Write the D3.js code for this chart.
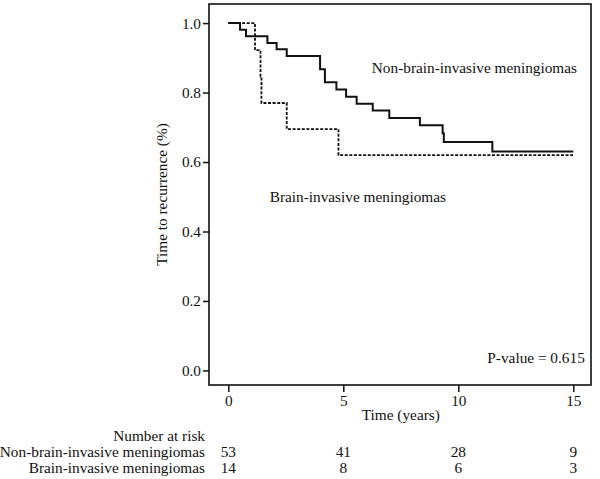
<!DOCTYPE html>
<html>
<head>
<meta charset="utf-8">
<script src="https://cdn.jsdelivr.net/npm/d3@7"></script>
<style>
  body { margin: 0; background: #fff; }
  svg text { font-family: "Liberation Serif", "Times New Roman", serif; fill: #111; }
</style>
</head>
<body>
<svg id="chart"></svg>
<script>
'use strict';

const WIDTH = 600;
const HEIGHT = 479;
const FONT = 15.3;

// Kaplan-Meier steps
const nonInvasiveTimes = [0, 0.51, 0.77, 1.70, 2.10, 2.54, 3.99, 4.20, 4.70, 5.12, 5.58, 6.28, 7.00, 8.33, 9.32, 9.37, 11.48, 15];
const nonInvasiveSurv  = [1.0, 0.981, 0.962, 0.943, 0.925, 0.905, 0.867, 0.830, 0.809, 0.788, 0.768, 0.748, 0.727, 0.706, 0.683, 0.658, 0.630, 0.630];

const invasiveTimes = [0, 1.16, 1.40, 1.44, 2.54, 4.79, 15];
const invasiveSurv  = [1.0, 0.922, 0.846, 0.770, 0.695, 0.620, 0.620];

const xTicks = [0, 5, 10, 15];
const yTicks = [0, 0.2, 0.4, 0.6, 0.8, 1.0];

const riskGroups = ['Non-brain-invasive meningiomas', 'Brain-invasive meningiomas'];
const riskNonInvasive = [53, 41, 28, 9];
const riskInvasive = [14, 8, 6, 3];

const FRAME = { left: 209, top: 4, right: 591, bottom: 385 };

const svg = d3.select('#chart').attr('width', WIDTH).attr('height', HEIGHT);

const x = d3.scaleLinear().domain([-0.84, 15.77]).range([FRAME.left, FRAME.right]);
const y = d3.scaleLinear().domain([-0.042, 1.055]).range([FRAME.bottom, FRAME.top]);

// axes
let xAxis = svg.append('g')
    .attr('transform', 'translate(0,' + FRAME.bottom + ')')
    .call(d3.axisBottom(x).tickValues(xTicks).tickSize(7).tickPadding(3).tickFormat(d3.format('d')));
let yAxis = svg.append('g')
    .attr('transform', 'translate(' + FRAME.left + ',0)')
    .call(d3.axisLeft(y).tickValues(yTicks).tickSize(6).tickPadding(2).tickFormat(d3.format('.1f')));
[xAxis, yAxis].forEach(function(g) {
    g.select('.domain').remove();
    g.selectAll('line').attr('stroke', '#111').attr('stroke-width', 1.5);
    g.selectAll('text').attr('font-size', FONT).attr('font-family', '"Liberation Serif", serif').attr('fill', '#111');
});

// frame
svg.append('rect')
    .attr('x', FRAME.left).attr('y', FRAME.top)
    .attr('width', FRAME.right - FRAME.left).attr('height', FRAME.bottom - FRAME.top)
    .attr('fill', 'none').attr('stroke', '#111').attr('stroke-width', 1.6);

// curves
const line = d3.line()
    .x(function(d) { return x(d[0]); })
    .y(function(d) { return y(d[1]); })
    .curve(d3.curveStepAfter);

svg.append('path')
    .datum(d3.zip(invasiveTimes, invasiveSurv))
    .attr('d', line)
    .attr('fill', 'none').attr('stroke', '#111').attr('stroke-width', 1.8)
    .attr('stroke-dasharray', '3,1.6');

svg.append('path')
    .datum(d3.zip(nonInvasiveTimes, nonInvasiveSurv))
    .attr('d', line)
    .attr('fill', 'none').attr('stroke', '#111').attr('stroke-width', 2);

// annotations
svg.append('text').attr('x', x(6.24)).attr('y', y(0.855)).attr('font-size', FONT)
    .text('Non-brain-invasive meningiomas');
svg.append('text').attr('x', x(1.8)).attr('y', y(0.485)).attr('font-size', FONT)
    .text('Brain-invasive meningiomas');
svg.append('text').attr('x', x(15.5)).attr('y', y(0.02)).attr('font-size', FONT)
    .attr('text-anchor', 'end').text('P-value = 0.615');

svg.append('text').attr('x', x(7.5)).attr('y', 420).attr('font-size', FONT)
    .attr('text-anchor', 'middle').text('Time (years)');
svg.append('text')
    .attr('transform', 'translate(167,' + ((FRAME.top + FRAME.bottom) / 2) + ') rotate(-90)')
    .attr('font-size', FONT).attr('text-anchor', 'middle')
    .text('Time to recurrence (%)');

// number at risk table
const LABEL_X = 205;
svg.append('text').attr('x', LABEL_X).attr('y', 441).attr('font-size', FONT)
    .attr('text-anchor', 'end').text('Number at risk');

[riskNonInvasive, riskInvasive].forEach(function(row, r) {
    let yy = 457 + r * 16;
    svg.append('text').attr('x', LABEL_X).attr('y', yy).attr('font-size', FONT)
        .attr('text-anchor', 'end').text(riskGroups[r]);
    svg.selectAll(null)
        .data(row)
        .enter()
        .append('text')
        .attr('x', function(d, i) { return x(xTicks[i]); })
        .attr('y', yy)
        .attr('font-size', FONT)
        .attr('text-anchor', 'middle')
        .text(function(d) { return d; });
});
</script>
</body>
</html>
